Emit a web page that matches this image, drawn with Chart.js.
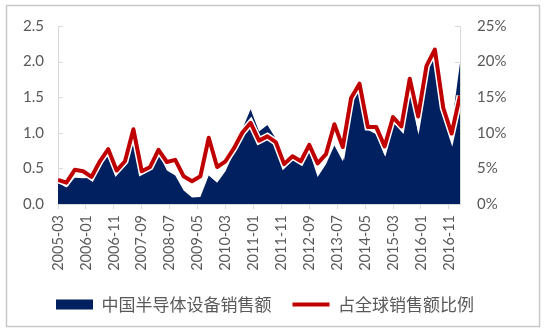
<!DOCTYPE html>
<html>
<head>
<meta charset="utf-8">
<script src="https://cdn.jsdelivr.net/npm/chart.js@4/dist/chart.umd.min.js"></script>
<style>
  html, body { margin: 0; background: #fff; }
  #wrap { width: 547px; height: 332px; }
</style>
</head>
<body>
<div id="wrap"><canvas id="chart" width="547" height="332"></canvas></div>
<script>
// quarterly periods, 2005-03 .. 2017-03
const periods = [
  '2005-03', '2005-06', '2005-09', '2005-12',
  '2006-03', '2006-06', '2006-09', '2006-12',
  '2007-03', '2007-06', '2007-09', '2007-12',
  '2008-03', '2008-06', '2008-09', '2008-12',
  '2009-03', '2009-06', '2009-09', '2009-12',
  '2010-03', '2010-06', '2010-09', '2010-12',
  '2011-03', '2011-06', '2011-09', '2011-12',
  '2012-03', '2012-06', '2012-09', '2012-12',
  '2013-03', '2013-06', '2013-09', '2013-12',
  '2014-03', '2014-06', '2014-09', '2014-12',
  '2015-03', '2015-06', '2015-09', '2015-12',
  '2016-03', '2016-06', '2016-09', '2016-12',
  '2017-03'
];

// 中国半导体设备销售额 (十亿美元)
const chinaSales = [
  0.30, 0.23, 0.37, 0.36, 0.37, 0.59, 0.84, 0.46, 0.57, 1.20,
  0.45, 0.51, 0.72, 0.47, 0.40, 0.19, 0.09, 0.10, 0.40, 0.30,
  0.46, 0.72, 1.05, 1.33, 1.02, 1.11, 0.92, 0.55, 0.69, 0.61,
  0.74, 0.38, 0.56, 0.82, 0.60, 1.42, 1.66, 1.04, 0.98, 0.68,
  1.14, 1.05, 1.67, 1.00, 1.77, 2.26, 1.42, 1.10, 1.98
];

// 占全球销售额比例 (%)
const globalShare = [
  3.4, 3.0, 4.8, 4.6, 3.8, 6.0, 7.7, 4.7, 6.0, 10.5,
  4.6, 5.2, 7.6, 5.9, 6.2, 3.9, 3.2, 3.9, 9.3, 5.2,
  6.0, 7.8, 10.0, 11.4, 8.9, 9.5, 8.7, 5.6, 6.7, 6.0,
  8.3, 5.7, 7.0, 11.2, 8.0, 14.9, 16.9, 10.8, 10.8, 8.1,
  12.2, 10.9, 17.6, 12.3, 19.4, 21.7, 13.5, 9.9, 15.2
];

const tickLabels = [
  '2005-03', '2006-01', '2006-11', '2007-09', '2008-07',
  '2009-05', '2010-03', '2011-01', '2011-11', '2012-09',
  '2013-07', '2014-05', '2015-03', '2016-01', '2016-11'
];

const NAVY = '#002060';
const RED = '#c00000';
const TEXT = '#595959';
const AXIS = '#d9d9d9';

// months since 2005-03, used as the x value
const monthIndex = s => {
  const [y, m] = s.split('-').map(Number);
  return (y - 2005) * 12 + (m - 3);
};
const monthLabel = {};
tickLabels.forEach(t => { monthLabel[monthIndex(t)] = t; });

const salesPts = periods.map((p, i) => ({ x: monthIndex(p), y: chinaSales[i] }));
const sharePts = periods.map((p, i) => ({ x: monthIndex(p), y: globalShare[i] }));

// white background + light frame round the whole chart
const frame = {
  id: 'frame',
  beforeDraw(chart) {
    const { ctx, width, height } = chart;
    ctx.save();
    ctx.fillStyle = '#fff';
    ctx.fillRect(0, 0, width, height);
    ctx.strokeStyle = '#c8c8c8';
    ctx.lineWidth = 1.5;
    ctx.strokeRect(6.5, 5.5, 533, 321);
    ctx.restore();
  }
};

// short tick marks pointing into the plot on both value axes
const innerTicks = {
  id: 'innerTicks',
  beforeDatasetsDraw(chart) {
    const { ctx, chartArea } = chart;
    ctx.save();
    ctx.strokeStyle = AXIS;
    ctx.lineWidth = 1;
    for (const id of ['y', 'y2']) {
      const sc = chart.scales[id];
      const x0 = id === 'y' ? chartArea.left : chartArea.right;
      const dir = id === 'y' ? 1 : -1;
      sc.ticks.forEach(t => {
        const py = Math.round(sc.getPixelForValue(t.value)) + 0.5;
        ctx.beginPath();
        ctx.moveTo(x0, py);
        ctx.lineTo(x0 + dir * 5, py);
        ctx.stroke();
      });
    }
    ctx.restore();
  }
};

Chart.defaults.font.family = 'Lato, "Noto Sans CJK SC", sans-serif';
Chart.defaults.color = TEXT;

new Chart(document.getElementById('chart'), {
  type: 'line',
  data: {
    datasets: [
      {
        label: '中国半导体设备销售额',
        data: salesPts,
        yAxisID: 'y',
        fill: 'origin',
        backgroundColor: NAVY,
        borderColor: NAVY,
        borderWidth: 0,
        pointRadius: 0,
        pointStyle: 'rect',
        order: 3
      },
      {
        label: '',
        data: sharePts,
        yAxisID: 'y2',
        fill: false,
        borderColor: '#ffffff',
        borderWidth: 7,
        pointRadius: 0,
        order: 2
      },
      {
        label: '占全球销售额比例',
        data: sharePts,
        yAxisID: 'y2',
        fill: false,
        backgroundColor: RED,
        borderColor: RED,
        borderWidth: 4,
        pointRadius: 0,
        pointStyle: 'line',
        borderJoinStyle: 'round',
        order: 1
      }
    ]
  },
  options: {
    responsive: false,
    animation: false,
    layout: { padding: { top: 25, left: 0, right: 17, bottom: 9 } },
    plugins: {
      tooltip: { enabled: false },
      legend: {
        position: 'bottom',
        labels: {
          usePointStyle: true,
          pointStyleWidth: 37,
          boxHeight: 10,
          padding: 21,
          color: TEXT,
          font: { size: 17, family: '"Noto Sans CJK SC", sans-serif' },
          filter: item => item.text !== '',
          sort: (a, b) => a.datasetIndex - b.datasetIndex
        }
      }
    },
    scales: {
      x: {
        type: 'linear',
        min: 0,
        max: monthIndex(periods[periods.length - 1]),
        afterBuildTicks: sc => {
          sc.ticks = tickLabels.map(t => ({ value: monthIndex(t) }));
        },
        afterFit: sc => { sc.height = 71; },
        ticks: {
          autoSkip: false,
          minRotation: 90,
          maxRotation: 90,
          padding: 6,
          color: TEXT,
          font: { size: 14.5 },
          callback: v => monthLabel[v] || ''
        },
        grid: { drawOnChartArea: false, drawTicks: true, tickLength: 5, color: AXIS },
        border: { display: true, color: AXIS }
      },
      y: {
        position: 'left',
        min: 0,
        max: 2.5,
        afterFit: sc => { sc.width = 58; },
        ticks: {
          stepSize: 0.5,
          padding: 14,
          color: TEXT,
          font: { size: 15 },
          callback: v => v.toFixed(1)
        },
        grid: { display: false, drawTicks: false, tickLength: 0 },
        border: { display: true, color: AXIS }
      },
      y2: {
        position: 'right',
        min: 0,
        max: 25,
        afterFit: sc => { sc.width = 70; },
        ticks: {
          stepSize: 5,
          padding: 17,
          color: TEXT,
          font: { size: 15 },
          callback: v => v + '%'
        },
        grid: { display: false, drawTicks: false, tickLength: 0 },
        border: { display: true, color: AXIS }
      }
    }
  },
  plugins: [frame, innerTicks]
});
</script>
</body>
</html>
